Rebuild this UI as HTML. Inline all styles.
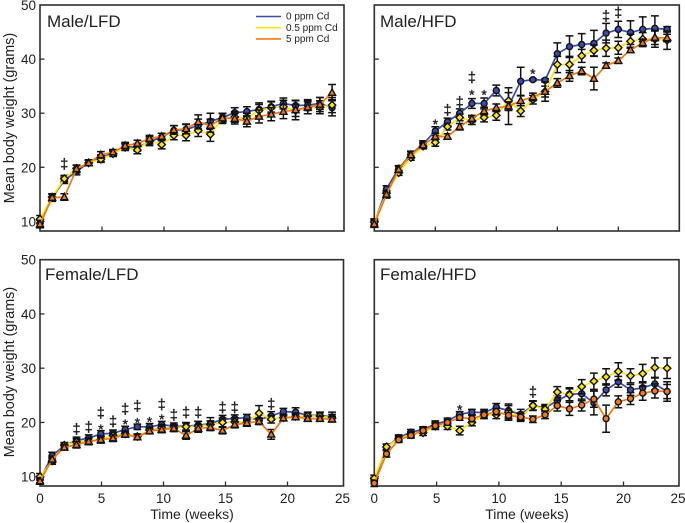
<!DOCTYPE html>
<html>
<head>
<meta charset="utf-8">
<style>
html,body{margin:0;padding:0;background:#fff;width:685px;height:523px;overflow:hidden}
svg{display:block;font-family:"Liberation Sans",sans-serif;filter:blur(0.35px)}
</style>
</head>
<body>
<svg id="chart" width="685" height="523" viewBox="0 0 685 523" xmlns="http://www.w3.org/2000/svg"></svg>
<script>
const weeks = [0,1,2,3,4,5,6,7,8,9,10,11,12,13,14,15,16,17,18,19,20,21,22,23,24];
const yTicks = [10,20,30,40,50];
const xTicks = [0,5,10,15,20,25];

const maleLfdBlue = [9.6,14.4,17.6,19.2,20.9,21.7,22.7,23.8,23.7,24.7,25.6,26.8,27,27.7,28.5,29.2,30.1,30.3,30.7,31.2,31.8,31.4,31.5,31.8,31];
const maleLfdYellow = [10.4,14.5,17.9,19.8,20.8,21.5,22.5,23.7,23.2,25,24.2,25.9,25.9,26.8,26.1,29,29.3,29,30.5,31,31.2,30.5,31,31.1,31.5];
const maleLfdOrange = [9.5,14.4,14.5,19.7,20.8,22.3,22.8,24,24.4,25.3,25.7,26.9,27.1,28.4,27.7,29.1,29,28.5,29.4,29.8,30.3,30.6,31.1,31.6,33.8];
const maleLfdBlueErr = [.7,.6,.6,.6,.5,.6,.5,.6,.7,.7,.7,.9,.9,1.2,1.5,.8,.9,.9,1.2,1,1,.9,1,1.1,1.5];
const maleLfdYellowErr = [.7,.6,.6,.6,.5,.6,.5,.6,.7,.7,.8,.8,1,1.1,1.3,.9,1,1,1.1,1.1,1.2,1.1,1.1,1.2,1.4];
const maleLfdOrangeErr = [.7,.7,.6,.7,.5,.6,.5,.6,.6,.6,.6,.8,.9,1.3,1.2,.9,1,1,1.2,1.2,1.3,1.8,1.2,1.3,1.5];

const maleHfdBlue = [9.7,16,19.8,22.4,24.3,26.7,28.4,30,31.8,31.8,34.2,31.3,35.9,36.2,36.1,41,42.3,42.7,42.9,44.8,45.5,44.9,45.5,45.7,45.5];
const maleHfdYellow = [9.9,15.2,19,21.8,23.9,24.6,27.5,29.2,28.6,29.2,29.6,32.3,30.4,32.5,34,39,39,40.6,41.6,42,42.1,43.3,43.7,43.7,43.5];
const maleHfdOrange = [9.5,15,19.6,22.3,24.1,25.7,25.7,27.5,29,30.4,31,31.3,32.3,33,34,35.6,36.9,37.8,36.4,38.8,39.7,41.7,43,44,43.9];
const maleHfdBlueErr = [.6,.6,.5,.6,.6,.8,.7,.8,.9,1,1,3.4,2.6,.2,.3,2,2,2,2.4,1.8,1.5,2.2,2.3,2.3,.5];
const maleHfdYellowErr = [.6,.5,.5,.5,.5,.7,.6,.6,.7,.8,.9,1.5,1,.8,1,1.5,1.5,1.2,1,1.5,1.2,1.3,1.2,1.5,1.7];
const maleHfdOrangeErr = [.6,.7,.6,.6,.5,.6,.5,.6,.6,.7,.7,.8,.9,.7,1.8,.8,1,.7,2.1,.5,.5,.5,.7,1.3,.7];

const femaleLfdBlue = [9.5,13.9,15.7,16.7,17.1,17.9,18,18.7,19.2,19.2,19.6,19.3,19.3,19.5,19.8,20.6,20.7,20.9,20.5,21.2,22,21.9,21.3,21.3,21];
const femaleLfdYellow = [10,12.9,15.8,16.4,16.6,16.9,17.6,17.9,17.4,18.6,19,19,19.2,19.3,19.6,20,20.1,20,21.7,20.6,20.9,21.1,21.2,21.2,20.8];
const femaleLfdOrange = [9.2,13.2,15.4,15.9,16.5,16.8,17.1,17.8,17.3,18.4,18.7,18.9,17.6,18.9,19.1,18.5,19.6,19.9,20.2,17.8,20.8,21,20.7,20.7,20.6];
const femaleLfdBlueErr = [.6,.6,.5,.6,.6,.6,.6,.6,.5,.6,.6,.6,.7,.7,1.1,.7,.7,.6,.8,.8,.6,.8,.6,.6,.9];
const femaleLfdYellowErr = [.6,.6,.5,.6,.6,.6,.6,.5,.5,.5,.6,.6,.7,.9,.7,.8,.8,.6,1.4,.7,.6,.6,.6,.6,.7];
const femaleLfdOrangeErr = [.6,.6,.5,.6,.6,.6,.6,.5,.5,.5,.6,.6,.7,.7,.6,.6,.6,.6,.6,.9,.5,.5,.5,.5,.5];

const femaleHfdBlue = [9.3,15.5,17.2,18.2,18.7,19.7,20.3,21.5,21.9,21.8,22.8,22.2,21.5,23.1,22.7,24,25.2,25.3,23.6,26,27.5,26,26.4,27.1,25.7];
const femaleHfdYellow = [9.7,15.5,17,17.8,18.1,19.3,19.3,18.5,20,21.4,21.4,21.9,21,23.1,22.4,25.6,25.1,26.6,27.6,28.4,29.4,28.6,29,30.1,30];
const femaleHfdOrange = [8.8,14.2,16.8,17.6,18.5,19.4,20,20.9,20.7,21.4,22,21.3,21,20.6,21.4,23.1,22.5,23.2,24.3,20.7,23.8,24.4,25.4,25.8,25.7];
const femaleHfdBlueErr = [.6,.5,.5,.5,.5,.6,.5,.5,.5,.6,.7,1.2,.9,.8,.6,.9,1.2,1.3,2.2,1.1,1,1,1.1,1.1,1.3];
const femaleHfdYellowErr = [.6,.5,.5,.5,.5,.6,.6,.8,.6,.7,.7,1.2,.8,.9,.7,1,1.1,1.3,1.5,1.5,1.6,1.3,1.7,1.8,1.9];
const femaleHfdOrangeErr = [.6,.6,.5,.5,.5,.6,.5,.5,.6,.6,.6,.9,.6,.6,.7,1,1.2,1.1,1.5,2.5,1.1,1.1,1.3,1.3,1.8];

const doseLabels = ["0 ppm Cd","0.5 ppm Cd","5 ppm Cd"];

const maleLfdSigWeeks = [2];
const maleLfdSigValues = [20.6];
const maleLfdSigSymbols = ["‡"];
const maleHfdSigWeeks = [5,6,7,8,8,9,13,19,20];
const maleHfdSigValues = [28.6,30.6,32.1,34,36.6,34,37.9,48,48.6];
const maleHfdSigSymbols = ["*","‡","‡","*","‡","*","*","‡","‡"];
const femaleLfdSigWeeks = [3,4,5,5,6,7,7,8,8,9,10,10,11,12,13,15,16,19];
const femaleLfdSigValues = [18.8,19.2,19.3,21.7,20.2,20.3,22.5,20.5,23,20.7,21.2,23.3,21.4,21.8,21.8,22.8,22.8,23.4];
const femaleLfdSigSymbols = ["‡","‡","*","‡","‡","*","‡","*","‡","*","*","‡","‡","‡","‡","‡","‡","‡"];
const femaleHfdSigWeeks = [7,13];
const femaleHfdSigValues = [22.9,25.6];
const femaleHfdSigSymbols = ["*","‡"];

const NS = "http://www.w3.org/2000/svg";
const svg = document.getElementById("chart");
const INK = "#1f1f1f";
const BLUE = "#3a4ba8";
const YELLOW = "#ffe600";
const ORANGE = "#f07a12";
const OUTLINE = "#111";

function make(tag, parent) {
  const el = document.createElementNS(NS, tag);
  parent.appendChild(el);
  return el;
}
function set(el, attrs) {
  for (const k in attrs) el.setAttribute(k, attrs[k]);
  return el;
}

function drawMarker(parent, shape, cx, cy, fill) {
  let m;
  if (shape === "circle") {
    m = set(make("circle", parent), {cx: cx, cy: cy, r: 3});
  } else if (shape === "diamond") {
    m = set(make("polygon", parent), {points: [cx, cy-3.7, cx+3.7, cy, cx, cy+3.7, cx-3.7, cy].join(",")});
  } else {
    m = set(make("polygon", parent), {points: [cx, cy-3.7, cx+3.5, cy+2.7, cx-3.5, cy+2.7].join(",")});
  }
  set(m, {fill: fill, stroke: OUTLINE, "stroke-width": 1.4});
  
  
}

function drawSeries(parent, sx, sy, values, errs, color, shape) {
  const g = make("g", parent);
  
  
  weeks.forEach(function (w, i) {
    const x = sx(w), hi = sy(values[i] + errs[i]), lo = sy(values[i] - errs[i]);
    const bar = set(make("path", g), {d: "M" + (x-3.9) + " " + hi + "H" + (x+3.9) + "M" + x + " " + hi + "V" + lo + "M" + (x-3.9) + " " + lo + "H" + (x+3.9), fill: "none", stroke: OUTLINE, "stroke-width": 1.5});
    
    
  });
  const line = set(make("polyline", g), {points: weeks.map(function (w, i) { return sx(w) + "," + sy(values[i]); }).join(" "), fill: "none", stroke: color, "stroke-width": 1.7});
  
  
  weeks.forEach(function (w, i) { drawMarker(g, shape, sx(w), sy(values[i]), color); });
}

function drawPanel(p) {
  const g = make("g", svg);
  
  
  const sx = function (w) { return p.left + w * p.dataStep; };
  const sy = function (v) { return p.y10 - (v - 10) * p.yUnit; };
  const tx = function (w) { return p.tickZero + w * p.tickStep; };

  const frame = set(make("rect", g), {x: p.left, y: p.top, width: p.right - p.left, height: p.bottom - p.top, fill: "#fff", stroke: "#2e2e2e", "stroke-width": 1.6});
  
  

  yTicks.forEach(function (v) {
    if (v < 50) {
      const t = set(make("line", g), {x1: p.left, x2: p.left + 4.5, y1: sy(v), y2: sy(v), stroke: "#2e2e2e", "stroke-width": 1.3});
      
      
    }
    if (p.yLabels) {
      const l = set(make("text", g), {x: p.left - 4, y: sy(v) + 5, "text-anchor": "end", "font-size": 13.5, fill: INK});
      l.textContent = v;
      
      
    }
  });
  xTicks.forEach(function (w) {
    if (w > 0 && w < 25) {
      const t = set(make("line", g), {x1: tx(w), x2: tx(w), y1: p.bottom, y2: p.bottom - 4.5, stroke: "#2e2e2e", "stroke-width": 1.3});
      
      
    }
    if (p.xLabels) {
      const px = w === 25 ? p.right - 1 : w === 0 ? p.left : tx(w);
      const l = set(make("text", g), {x: px, y: 503, "text-anchor": "middle", "font-size": 13.5, fill: INK});
      l.textContent = w;
      
      
    }
  });

  drawSeries(g, sx, sy, p.blue, p.blueErr, BLUE, "circle");
  drawSeries(g, sx, sy, p.yellow, p.yellowErr, YELLOW, "diamond");
  drawSeries(g, sx, sy, p.orange, p.orangeErr, ORANGE, p.orangeShape);

  p.sigWeeks.forEach(function (w, i) {
    const star = p.sigSymbols[i] === "*";
    const s = set(make("text", g), {x: sx(w), y: sy(p.sigValues[i]) + (star ? 8 : 5), "text-anchor": "middle", "font-size": star ? 14 : 14.5, fill: INK, stroke: INK, "stroke-width": 0.35});
    s.textContent = p.sigSymbols[i];
    
    
  });

  const title = set(make("text", g), {x: p.titleX, y: p.titleY, "font-size": 17, fill: INK});
  title.textContent = p.title;
  
  

  if (p.yLabels) {
    const yt = set(make("text", g), {transform: "translate(14," + (p.yTitleY) + ") rotate(-90)", "text-anchor": "middle", "font-size": 14.4, fill: INK});
    yt.textContent = "Mean body weight (grams)";
    
    
  }
  if (p.xLabels) {
    const xt = set(make("text", g), {x: p.xTitleX, y: 519, "text-anchor": "middle", "font-size": 14, fill: INK});
    xt.textContent = "Time (weeks)";
    
    
  }
}

drawPanel({title: "Male/LFD", titleX: 47, titleY: 27, left: 40, right: 344, top: 5, bottom: 231, y10: 221.4, yUnit: 5.41, dataStep: 12.17, tickZero: 40, tickStep: 12.4, yLabels: true, xLabels: false, yTitleY: 118, blue: maleLfdBlue, yellow: maleLfdYellow, orange: maleLfdOrange, blueErr: maleLfdBlueErr, yellowErr: maleLfdYellowErr, orangeErr: maleLfdOrangeErr, orangeShape: "triangle", sigWeeks: maleLfdSigWeeks, sigValues: maleLfdSigValues, sigSymbols: maleLfdSigSymbols});
drawPanel({title: "Male/HFD", titleX: 380, titleY: 27, left: 374.3, right: 679.3, top: 5, bottom: 231, y10: 221.4, yUnit: 5.41, dataStep: 12.2, tickZero: 374.3, tickStep: 12.2, yLabels: false, xLabels: false, blue: maleHfdBlue, yellow: maleHfdYellow, orange: maleHfdOrange, blueErr: maleHfdBlueErr, yellowErr: maleHfdYellowErr, orangeErr: maleHfdOrangeErr, orangeShape: "triangle", sigWeeks: maleHfdSigWeeks, sigValues: maleHfdSigValues, sigSymbols: maleHfdSigSymbols});
drawPanel({title: "Female/LFD", titleX: 45, titleY: 280, left: 40, right: 343.5, top: 259.7, bottom: 486, y10: 476.7, yUnit: 5.425, dataStep: 12.17, tickZero: 39.5, tickStep: 12.4, yLabels: true, xLabels: true, yTitleY: 372, xTitleX: 192, blue: femaleLfdBlue, yellow: femaleLfdYellow, orange: femaleLfdOrange, blueErr: femaleLfdBlueErr, yellowErr: femaleLfdYellowErr, orangeErr: femaleLfdOrangeErr, orangeShape: "triangle", sigWeeks: femaleLfdSigWeeks, sigValues: femaleLfdSigValues, sigSymbols: femaleLfdSigSymbols});
drawPanel({title: "Female/HFD", titleX: 380, titleY: 280, left: 374.3, right: 679, top: 259.7, bottom: 486, y10: 476.7, yUnit: 5.425, dataStep: 12.2, tickZero: 374.3, tickStep: 12.46, yLabels: false, xLabels: true, xTitleX: 527, blue: femaleHfdBlue, yellow: femaleHfdYellow, orange: femaleHfdOrange, blueErr: femaleHfdBlueErr, yellowErr: femaleHfdYellowErr, orangeErr: femaleHfdOrangeErr, orangeShape: "circle", sigWeeks: femaleHfdSigWeeks, sigValues: femaleHfdSigValues, sigSymbols: femaleHfdSigSymbols});

const legend = make("g", svg);


[BLUE, YELLOW, ORANGE].forEach(function (c, i) {
  const ly = 16.5 + i * 11.2;
  const sw = set(make("line", legend), {x1: 256, x2: 281, y1: ly, y2: ly, stroke: c, "stroke-width": 1.6});
  
  
  const tx = set(make("text", legend), {x: 286, y: ly + 3.2, "font-size": 10, fill: INK});
  tx.textContent = doseLabels[i];
  
  
});
</script>
</body>
</html>
